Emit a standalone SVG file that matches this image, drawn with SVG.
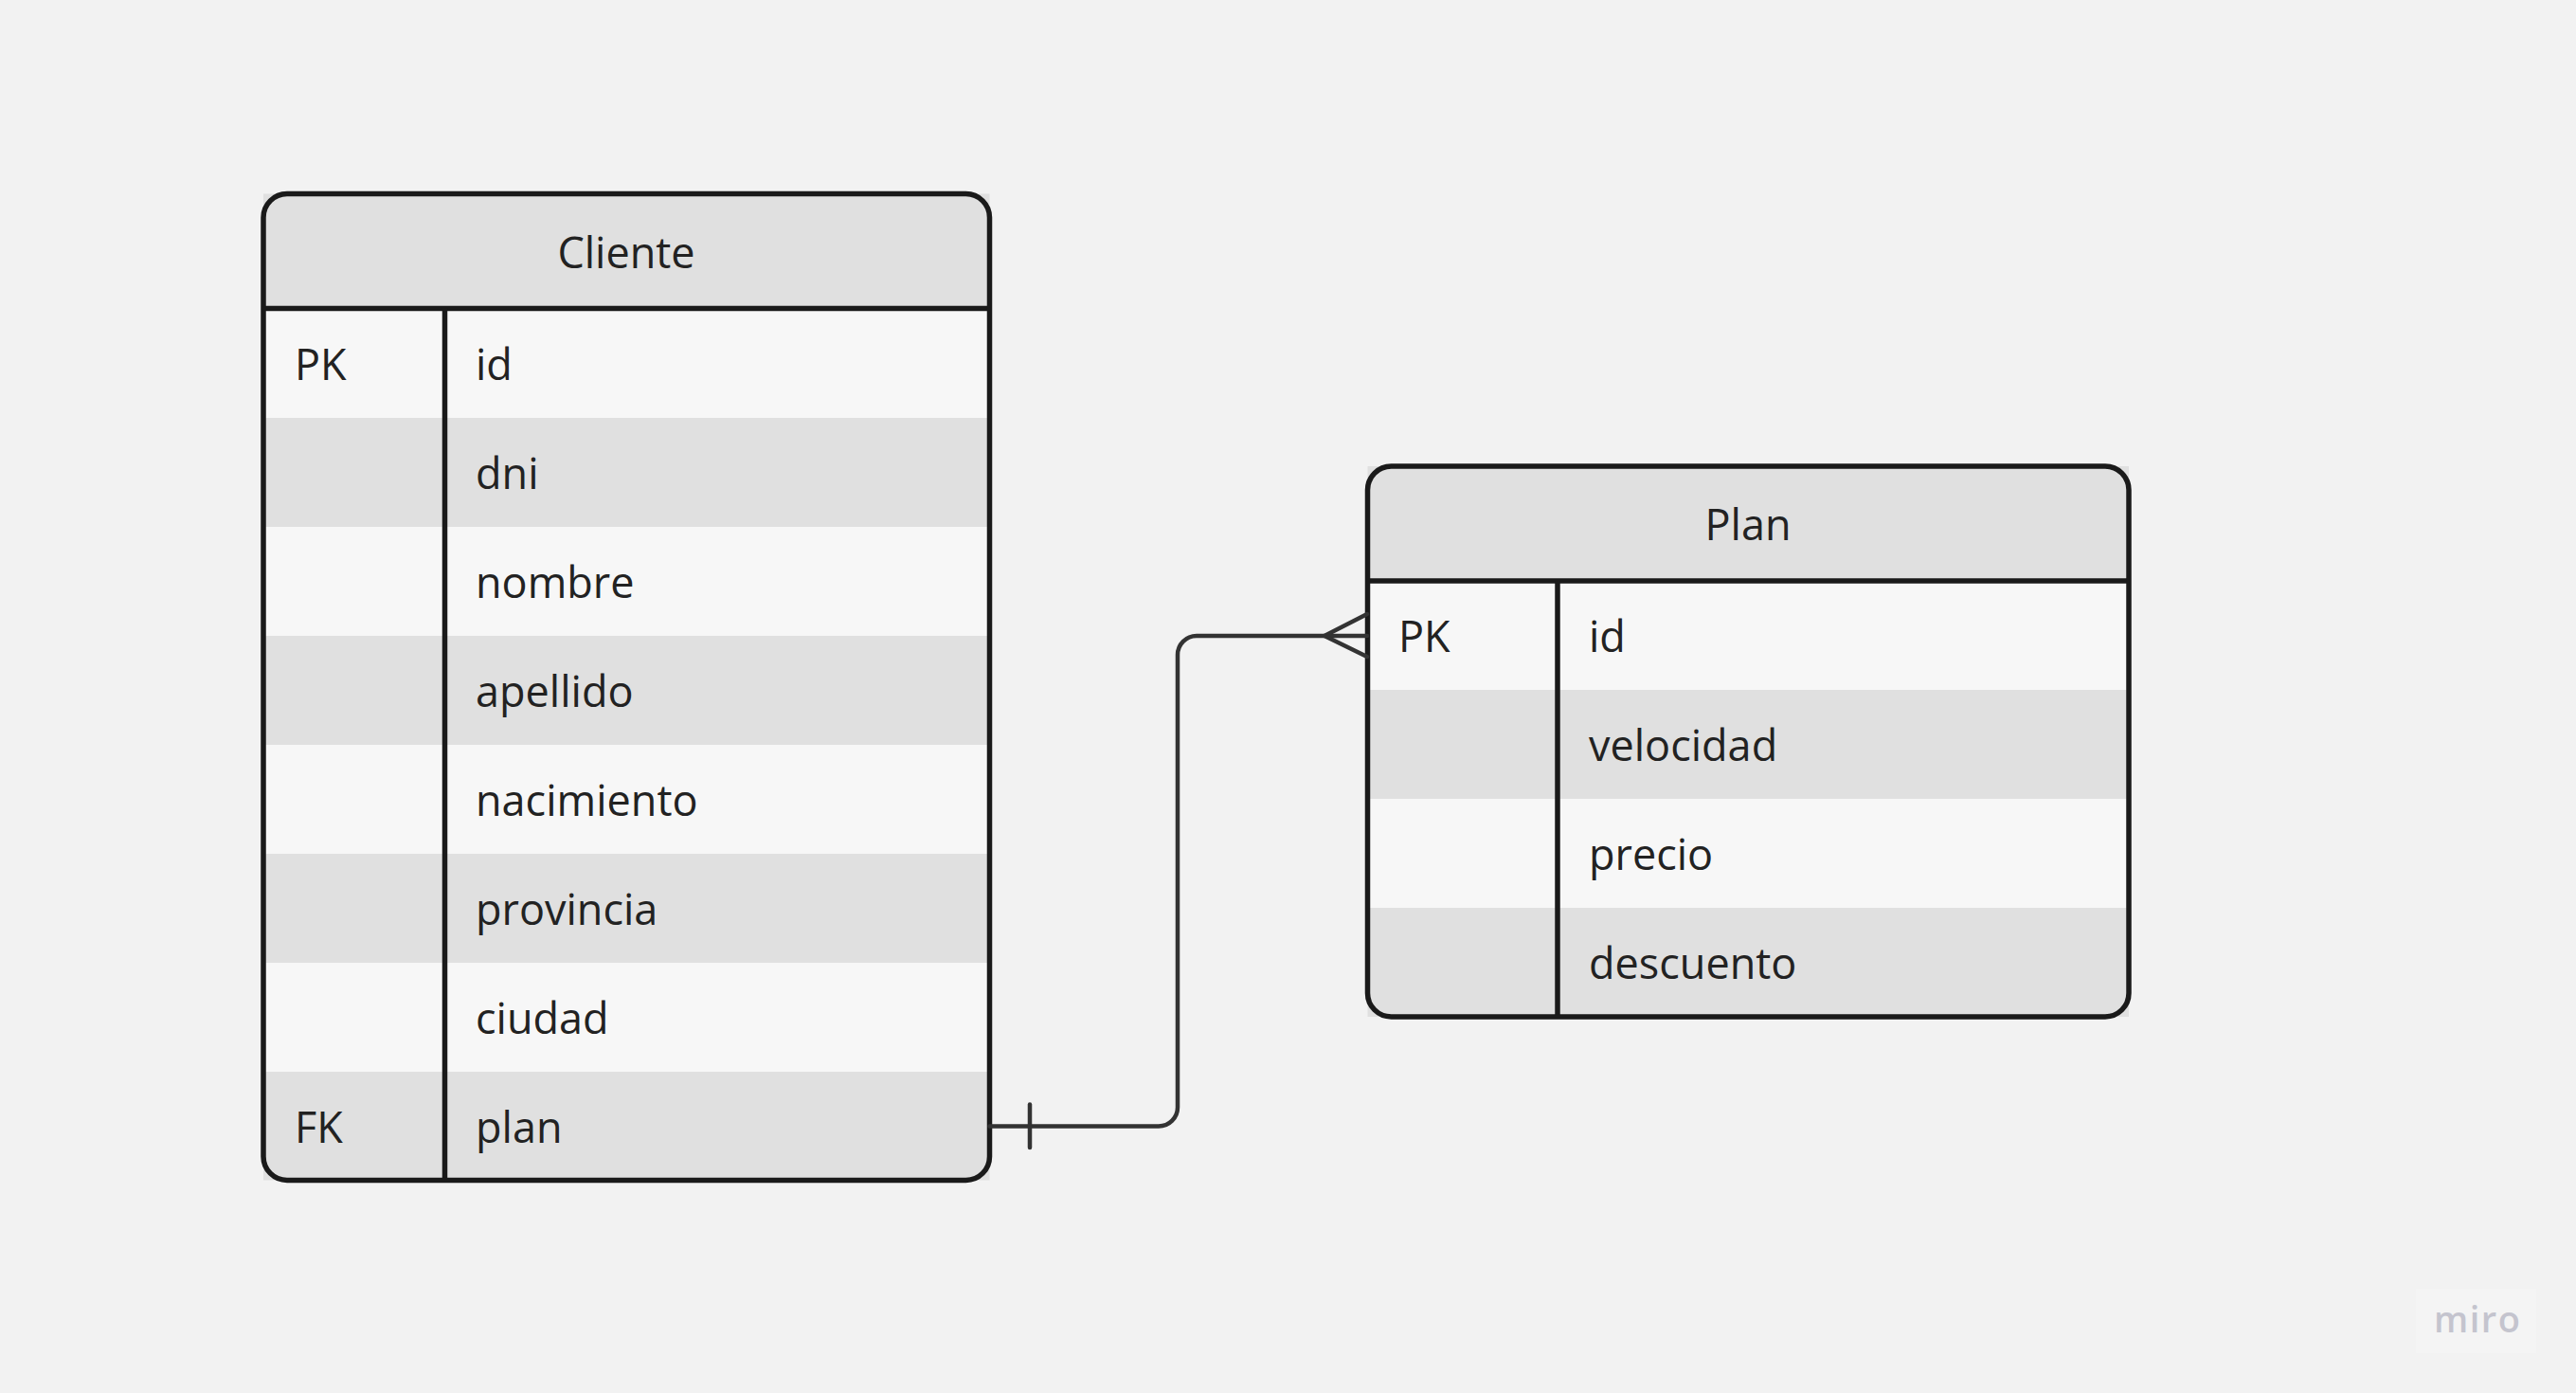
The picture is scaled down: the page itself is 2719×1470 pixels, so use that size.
<svg xmlns="http://www.w3.org/2000/svg" width="2719" height="1470" viewBox="0 0 2719 1470">
<style>
.bg{fill:#f2f2f2}
.hd{fill:#e0e0e0}
.lt{fill:#f7f7f7}
.dk{fill:#e0e0e0}
.frame{fill:none;stroke:#1a1a1a;stroke-width:5.5}
.sep{stroke:#1a1a1a;stroke-width:5.5;fill:none}
.t{font-family:"Open Sans","Noto Sans",sans-serif;font-size:45px;fill:#222222}
.h{text-anchor:middle}
.conn{fill:none;stroke:#333333;stroke-width:4.5;stroke-linecap:round;stroke-linejoin:round}
.logo{font-family:"Open Sans","Noto Sans",sans-serif;font-size:38px;font-weight:600;fill:#c4c4ce;letter-spacing:1.5px}
</style>
<rect class="bg" x="0" y="0" width="2719" height="1470"/>

<g id="cliente">
  <rect class="hd" x="278" y="204.5" width="766.5" height="121"/>
  <rect class="lt" x="278" y="326" width="766.5" height="115"/>
  <rect class="dk" x="278" y="441" width="766.5" height="115"/>
  <rect class="lt" x="278" y="556" width="766.5" height="115"/>
  <rect class="dk" x="278" y="671" width="766.5" height="115"/>
  <rect class="lt" x="278" y="786" width="766.5" height="115"/>
  <rect class="dk" x="278" y="901" width="766.5" height="115"/>
  <rect class="lt" x="278" y="1016" width="766.5" height="115"/>
  <rect class="dk" x="278" y="1131" width="766.5" height="114.5"/>
  <line class="sep" x1="278" y1="325.5" x2="1044.5" y2="325.5"/>
  <line class="sep" x1="469.5" y1="325.5" x2="469.5" y2="1245.5"/>
  <rect class="frame" x="278" y="204.5" width="766.5" height="1041" rx="25" ry="25"/>
  <text class="t h" x="661" y="283">Cliente</text>
  <text class="t" x="311" y="401">PK</text>
  <text class="t" x="502" y="401">id</text>
  <text class="t" x="502" y="516">dni</text>
  <text class="t" x="502" y="631">nombre</text>
  <text class="t" x="502" y="746">apellido</text>
  <text class="t" x="502" y="861">nacimiento</text>
  <text class="t" x="502" y="976">provincia</text>
  <text class="t" x="502" y="1091">ciudad</text>
  <text class="t" x="311" y="1206">FK</text>
  <text class="t" x="502" y="1206">plan</text>
</g>

<g id="plan">
  <rect class="hd" x="1443.5" y="492" width="803.5" height="121"/>
  <rect class="lt" x="1443.5" y="613" width="803.5" height="115"/>
  <rect class="dk" x="1443.5" y="728" width="803.5" height="115"/>
  <rect class="lt" x="1443.5" y="843" width="803.5" height="115"/>
  <rect class="dk" x="1443.5" y="958" width="803.5" height="115"/>
  <line class="sep" x1="1443.5" y1="613" x2="2247" y2="613"/>
  <line class="sep" x1="1644" y1="613" x2="1644" y2="1073"/>
  <rect class="frame" x="1443.5" y="492" width="803.5" height="581" rx="25" ry="25"/>
  <text class="t h" x="1845" y="570">Plan</text>
  <text class="t" x="1476" y="688">PK</text>
  <text class="t" x="1677" y="688">id</text>
  <text class="t" x="1677" y="803">velocidad</text>
  <text class="t" x="1677" y="918">precio</text>
  <text class="t" x="1677" y="1033">descuento</text>
</g>

<g id="connectors">
  <path class="conn" d="M1044.5 1188.5 H1223 A20 20 0 0 0 1243 1168.5 V691 A20 20 0 0 1 1263 671 H1443"/>
  <line class="conn" x1="1087" y1="1165.5" x2="1087" y2="1211"/>
  <path class="conn" d="M1443 648 L1398 671 L1443 693"/>
</g>

<g id="watermark">
  <rect x="2550" y="1360" width="127" height="68" fill="#f4f4f4"/>
  <text class="logo" x="2569" y="1406">miro</text>
</g>
</svg>
